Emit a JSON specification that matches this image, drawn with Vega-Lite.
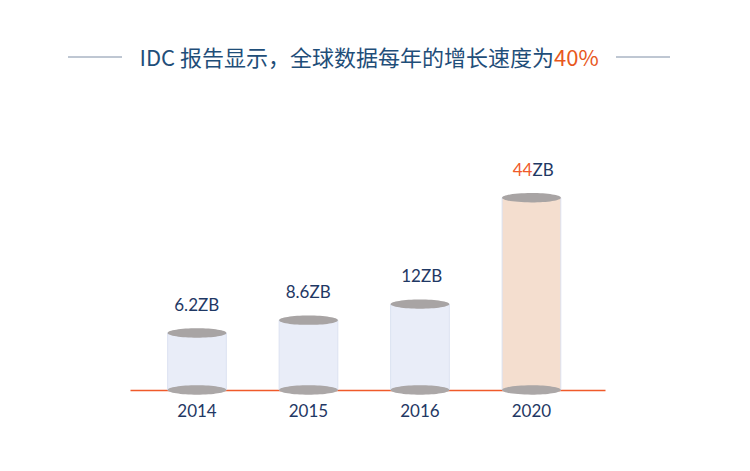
{
  "$schema": "https://vega.github.io/schema/vega-lite/v6.json",
  "autosize": "none",
  "width": 475,
  "height": 290,
  "padding": {"left": 130, "top": 100, "right": 145, "bottom": 81},
  "background": "white",
  "config": {"view": {"stroke": null}},
  "data": {"values": [
    {"year": "2014", "value": 6.2},
    {"year": "2015", "value": 8.6},
    {"year": "2016", "value": 12},
    {"year": "2020", "value": 44}
  ]},
  "layer": [
    {
      "mark": {"type": "bar", "stroke": "#DCE2F1", "strokeWidth": 1},
      "encoding": {
        "x": {
          "field": "year", "type": "nominal",
          "scale": {"paddingInner": 0.4735, "paddingOuter": 0.367, "align": 0.46},
          "axis": {
            "title": null, "ticks": false, "tickSize": 0, "labelPadding": 13,
            "labelAngle": 0, "labelFont": "Lato", "labelFontSize": 17,
            "labelColor": "#1F3864", "domainColor": "#F05A2A", "domainWidth": 1.5
          }
        },
        "y": {
          "field": "value", "type": "quantitative",
          "scale": {"type": "pow", "exponent": 0.62, "domain": [0, 85.4], "nice": false, "zero": true},
          "axis": null
        },
        "color": {
          "condition": {"test": "datum.year === '2020'", "value": "#F4DECF"},
          "value": "#E9EDF8"
        }
      }
    },
    {
      "mark": {"type": "point", "filled": true, "opacity": 1, "size": 3450,
               "shape": "M-1,0A1,0.16,0,1,1,1,0A1,0.16,0,1,1,-1,0Z", "color": "#ABA7A7", "strokeWidth": 0},
      "encoding": {
        "x": {"field": "year", "type": "nominal"},
        "y": {"datum": 0, "type": "quantitative"}
      }
    },
    {
      "mark": {"type": "point", "filled": true, "opacity": 1, "size": 3450,
               "shape": "M-1,0A1,0.16,0,1,1,1,0A1,0.16,0,1,1,-1,0Z", "color": "#A8A4A4", "strokeWidth": 0},
      "encoding": {
        "x": {"field": "year", "type": "nominal"},
        "y": {"field": "value", "type": "quantitative"}
      }
    },
    {
      "mark": {"type": "text", "align": "right", "baseline": "middle", "dx": 1, "dy": -27,
               "font": "Lato", "fontSize": 17},
      "encoding": {
        "x": {"field": "year", "type": "nominal"},
        "y": {"field": "value", "type": "quantitative"},
        "text": {"field": "value", "type": "quantitative"},
        "color": {
          "condition": {"test": "datum.year === '2020'", "value": "#F05A2A"},
          "value": "#1F3864"
        }
      }
    },
    {
      "mark": {"type": "text", "align": "left", "baseline": "middle", "dx": 1, "dy": -27,
               "font": "Lato", "fontSize": 17, "text": "ZB", "color": "#1F3864"},
      "encoding": {
        "x": {"field": "year", "type": "nominal"},
        "y": {"field": "value", "type": "quantitative"}
      }
    },
    {
      "data": {"values": [{"main": "IDC 报告显示，全球数据每年的增长速度为", "pct": "40%"}]},
      "layer": [
        {
          "mark": {"type": "text", "align": "right", "baseline": "middle",
                   "font": "Noto Sans CJK SC", "fontSize": 22, "color": "#1F4E79"},
          "encoding": {
            "text": {"field": "main"},
            "x": {"value": 424},
            "y": {"value": -41}
          }
        },
        {
          "mark": {"type": "text", "align": "left", "baseline": "middle",
                   "font": "Noto Sans CJK SC", "fontSize": 22, "color": "#E8581C"},
          "encoding": {
            "text": {"field": "pct"},
            "x": {"value": 424},
            "y": {"value": -41}
          }
        }
      ]
    },
    {
      "data": {"values": [{"side": "left", "x1": -62, "x2": -8}, {"side": "right", "x1": 486, "x2": 540}]},
      "mark": {"type": "rule", "color": "#7F8FA6", "strokeWidth": 1},
      "encoding": {
        "x": {"field": "x1", "type": "quantitative", "scale": null},
        "x2": {"field": "x2"},
        "y": {"value": -43}
      }
    }
  ]
}
